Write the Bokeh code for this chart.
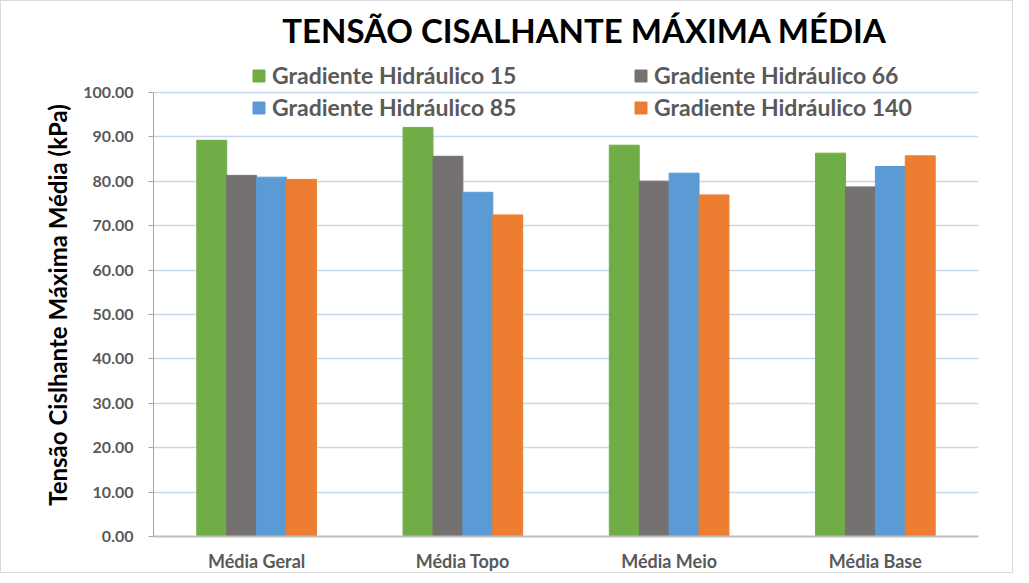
from bokeh.plotting import figure
from bokeh.models import (FactorRange, ColumnDataSource, Legend, LegendItem, Label,
                          FixedTicker, CustomJSTickFormatter)
from bokeh.transform import dodge
from bokeh.embed import file_html
from bokeh.resources import INLINE

categories = ["Média Geral", "Média Topo", "Média Meio", "Média Base"]
series_names = ["Gradiente Hidráulico 15", "Gradiente Hidráulico 66",
                "Gradiente Hidráulico 85", "Gradiente Hidráulico 140"]
g15 = [89.2, 92.1, 88.1, 86.3]
g66 = [81.3, 85.6, 80.0, 78.7]
g85 = [80.9, 77.5, 81.8, 83.3]
g140 = [80.4, 72.4, 76.9, 85.7]
colors = ["#70AD47", "#767171", "#5B9BD5", "#ED7D31"]
y_ticks = [0, 10, 20, 30, 40, 50, 60, 70, 80, 90, 100]
y_label = "Tensão Cislhante Máxima Média (kPa)"

FONT = "Lato"
TXT = "#595959"

src = ColumnDataSource(dict(cat=categories, g15=g15, g66=g66, g85=g85, g140=g140))

# y range extends above 100 so that the title and legend sit inside the frame
p = figure(x_range=FactorRange(*categories), y_range=(0, 120),
           width=1013, height=573, output_backend="svg", toolbar_location=None,
           min_border_left=152, min_border_top=2, min_border_right=36,
           min_border_bottom=37)
p.styles = {"border": "1px solid #d9d9d9"}

w = 0.145
offsets = [-1.5 * w, -0.5 * w, 0.5 * w, 1.5 * w]
renderers = []
for col, off, c in zip(["g15", "g66", "g85", "g140"], offsets, colors):
    r = p.vbar(x=dodge("cat", off, range=p.x_range), top=col, width=w, source=src,
               fill_color=c, line_color=c)
    renderers.append(r)

p.outline_line_color = None
p.xgrid.grid_line_color = None
p.ygrid.grid_line_color = "#c5daf0"
p.ygrid.grid_line_width = 1.5
p.yaxis.ticker = FixedTicker(ticks=y_ticks)
p.yaxis.bounds = (0, 100)
p.yaxis.formatter = CustomJSTickFormatter(code="return tick.toFixed(2);")
p.yaxis.axis_line_color = "#a6a6a6"
p.yaxis.major_tick_line_color = "#a6a6a6"
p.yaxis.major_tick_out = 5
p.yaxis.major_tick_in = 0
p.yaxis.minor_tick_line_color = None
p.yaxis.major_label_text_font = FONT
p.yaxis.major_label_text_font_style = "bold"
p.yaxis.major_label_text_font_size = "16px"
p.yaxis.major_label_text_color = TXT
p.yaxis.major_label_standoff = 15
# trailing no-break spaces move the rotated label's visible text down to centre it on 0-100
p.yaxis.axis_label = y_label + "\u00a0" * 12
p.yaxis.axis_label_text_font = FONT
p.yaxis.axis_label_text_font_style = "bold"
p.yaxis.axis_label_text_font_size = "24px"
p.yaxis.axis_label_text_color = "#000000"
p.yaxis.axis_label_standoff = 8

p.xaxis.axis_line_color = "#bfbfbf"
p.xaxis.axis_line_width = 2
p.xaxis.major_tick_line_color = None
p.xaxis.minor_tick_line_color = None
p.xaxis.major_label_text_font = FONT
p.xaxis.major_label_text_font_style = "bold"
p.xaxis.major_label_text_font_size = "18px"
p.xaxis.major_label_text_color = TXT
p.xaxis.major_label_standoff = 7

p.add_layout(Label(x=2.09, y=114.0, text="TENSÃO CISALHANTE MÁXIMA MÉDIA",
                   text_font=FONT, text_font_style="bold", text_font_size="33px",
                   text_color="#000000", text_align="center", text_baseline="middle"))

def make_legend(items, loc):
    return Legend(items=items, location=loc, orientation="vertical",
                  label_text_font=FONT, label_text_font_style="bold",
                  label_text_font_size="23px", label_text_color=TXT,
                  glyph_width=15, glyph_height=15, label_standoff=6,
                  label_height=24, spacing=4, padding=0, margin=0,
                  background_fill_alpha=0, border_line_color=None)

lg1 = make_legend([LegendItem(label=series_names[0], renderers=[renderers[0]]),
                   LegendItem(label=series_names[2], renderers=[renderers[2]])], (98, 415))
lg2 = make_legend([LegendItem(label=series_names[1], renderers=[renderers[1]]),
                   LegendItem(label=series_names[3], renderers=[renderers[3]])], (480, 415))
p.add_layout(lg1, "center")
p.add_layout(lg2, "center")

open("out.html", "w").write(file_html(p, INLINE))
